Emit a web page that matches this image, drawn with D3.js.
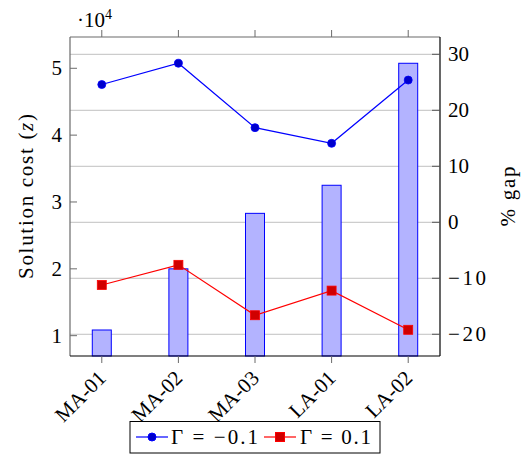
<!DOCTYPE html>
<html>
<head>
<meta charset="utf-8">
<script src="https://cdn.jsdelivr.net/npm/d3@7"></script>
<style>
  body { margin: 0; background: #fff; }
</style>
</head>
<body>
<svg id="chart" width="524" height="456"></svg>
<script>
// instances on the x axis
const instances = ["MA-01", "MA-02", "MA-03", "LA-01", "LA-02"];
// solution cost, in units of 10^4
const solutionCost = [1.085, 2.0, 2.83, 3.25, 5.075];
// % gap for the two Gamma settings
const gapNeg = [24.6, 28.4, 16.9, 14.1, 25.4];
const gapPos = [-11.2, -7.6, -16.6, -12.2, -19.2];
const leftTicks = [1, 2, 3, 4, 5];
const rightTicks = [-20, -10, 0, 10, 20, 30];

const svg = d3.select("#chart")
  .attr("font-family", "Liberation Serif, Times New Roman, Times, DejaVu Serif, serif");
const pl = 70, pr = 440, pt = 37, pb = 356;
const FS = 21;

const x = d3.scalePoint().domain(instances).range([pl, pr]).padding(0.415);
const yL = d3.scaleLinear().domain([0.696, 5.468]).range([pb, pt]);
const yR = d3.scaleLinear().domain([-23.88, 33.09]).range([pb, pt]);

// grid from the right axis
svg.append("g").selectAll("line").data(rightTicks).join("line")
  .attr("x1", pl).attr("x2", pr)
  .attr("y1", d => yR(d)).attr("y2", d => yR(d))
  .attr("stroke", "#c0c0c0").attr("stroke-width", 1);

// bars
const bw = 19;
svg.append("g").selectAll("rect").data(solutionCost).join("rect")
  .attr("x", (d, i) => x(instances[i]) - bw / 2)
  .attr("y", d => yL(d))
  .attr("width", bw)
  .attr("height", d => pb - yL(d))
  .attr("fill", "#b3b3ff").attr("stroke", "#0000ff").attr("stroke-width", 1);

// lines
const line = d3.line().x((d, i) => x(instances[i])).y(d => yR(d));
svg.append("path").datum(gapNeg).attr("d", line)
  .attr("fill", "none").attr("stroke", "#0000ff").attr("stroke-width", 1.2);
svg.append("path").datum(gapPos).attr("d", line)
  .attr("fill", "none").attr("stroke", "#ff0000").attr("stroke-width", 1.2);

svg.append("g").selectAll("circle").data(gapNeg).join("circle")
  .attr("cx", (d, i) => x(instances[i])).attr("cy", d => yR(d)).attr("r", 4)
  .attr("fill", "#0000cc").attr("stroke", "#0000ff").attr("stroke-width", 0.8);
svg.append("g").selectAll("rect").data(gapPos).join("rect")
  .attr("x", (d, i) => x(instances[i]) - 4.5).attr("y", d => yR(d) - 4.5)
  .attr("width", 9).attr("height", 9)
  .attr("fill", "#d00000").attr("stroke", "#ff0000").attr("stroke-width", 0.8);

// frame
svg.append("line").attr("x1", pl).attr("x2", pl).attr("y1", pt).attr("y2", pb)
  .attr("stroke", "#6a6a6a").attr("stroke-width", 1.2);
svg.append("line").attr("x1", pl).attr("x2", pr).attr("y1", pt).attr("y2", pt)
  .attr("stroke", "#6a6a6a").attr("stroke-width", 1.2);
svg.append("line").attr("x1", pr).attr("x2", pr).attr("y1", pt).attr("y2", pb)
  .attr("stroke", "#000").attr("stroke-width", 1.2);
svg.append("line").attr("x1", pl).attr("x2", pr).attr("y1", pb).attr("y2", pb)
  .attr("stroke", "#000").attr("stroke-width", 1.2);

// left axis
const gl = svg.append("g");
gl.selectAll("line").data(leftTicks).join("line")
  .attr("x1", pl).attr("x2", pl + 7).attr("y1", d => yL(d)).attr("y2", d => yL(d))
  .attr("stroke", "#6a6a6a");
gl.selectAll("text").data(leftTicks).join("text")
  .attr("x", pl - 8).attr("y", d => yL(d)).attr("dy", "0.33em")
  .attr("text-anchor", "end").attr("font-size", FS).text(d => d);
svg.append("text").attr("x", 77).attr("y", 27).attr("font-size", FS)
  .html('·10<tspan dy="-8" font-size="14">4</tspan>');

// right axis
const gr = svg.append("g");
gr.selectAll("line").data(rightTicks).join("line")
  .attr("x1", pr - 8).attr("x2", pr).attr("y1", d => yR(d)).attr("y2", d => yR(d))
  .attr("stroke", "#555");
gr.selectAll("text").data(rightTicks).join("text")
  .attr("x", 448).attr("y", d => yR(d)).attr("dy", "0.33em")
  .attr("text-anchor", "start").attr("font-size", FS)
  .each(function(d) { if (d < 0) d3.select(this).attr("textLength", 38); })
  .text(d => d < 0 ? "\u2212" + Math.abs(d) : d);

// x ticks top and bottom
const gx = svg.append("g");
gx.selectAll("line.b").data(instances).join("line").attr("class", "b")
  .attr("x1", d => x(d)).attr("x2", d => x(d)).attr("y1", pb).attr("y2", pb + 7)
  .attr("stroke", "#6a6a6a");
gx.selectAll("line.t").data(instances).join("line").attr("class", "t")
  .attr("x1", d => x(d)).attr("x2", d => x(d)).attr("y1", pt).attr("y2", pt - 7)
  .attr("stroke", "#6a6a6a");
gx.selectAll("text").data(instances).join("text")
  .attr("transform", d => `translate(${x(d) - 5},${pb + 13}) rotate(-45)`)
  .attr("text-anchor", "end").attr("dy", "0.7em").attr("font-size", FS).text(d => d);

// axis titles
svg.append("text").attr("transform", `translate(33,${(pt + pb) / 2}) rotate(-90)`)
  .attr("text-anchor", "middle").attr("font-size", FS).attr("textLength", 165)
  .html('Solution cost (<tspan font-style="italic">z</tspan>)');
svg.append("text").attr("transform", `translate(515,${(pt + pb) / 2}) rotate(-90)`)
  .attr("text-anchor", "middle").attr("font-size", FS).attr("textLength", 60)
  .text("% gap");

// legend
const lg = svg.append("g");
lg.append("rect").attr("x", 130).attr("y", 421.5).attr("width", 250).attr("height", 31.5)
  .attr("fill", "#fff").attr("stroke", "#000").attr("stroke-width", 1);
lg.append("line").attr("x1", 136).attr("x2", 168).attr("y1", 437).attr("y2", 437)
  .attr("stroke", "#0000ff").attr("stroke-width", 1.2);
lg.append("circle").attr("cx", 152).attr("cy", 437).attr("r", 4)
  .attr("fill", "#0000cc").attr("stroke", "#0000ff");
lg.append("text").attr("x", 171).attr("y", 437).attr("dy", "0.33em").attr("font-size", FS)
  .attr("textLength", 87).text("\u0393 = \u22120.1");
lg.append("line").attr("x1", 264).attr("x2", 296).attr("y1", 437).attr("y2", 437)
  .attr("stroke", "#ff0000").attr("stroke-width", 1.2);
lg.append("rect").attr("x", 275.5).attr("y", 432.5).attr("width", 9).attr("height", 9)
  .attr("fill", "#d00000").attr("stroke", "#ff0000");
lg.append("text").attr("x", 300).attr("y", 437).attr("dy", "0.33em").attr("font-size", FS)
  .attr("textLength", 71).text("\u0393 = 0.1");
</script>
</body>
</html>
